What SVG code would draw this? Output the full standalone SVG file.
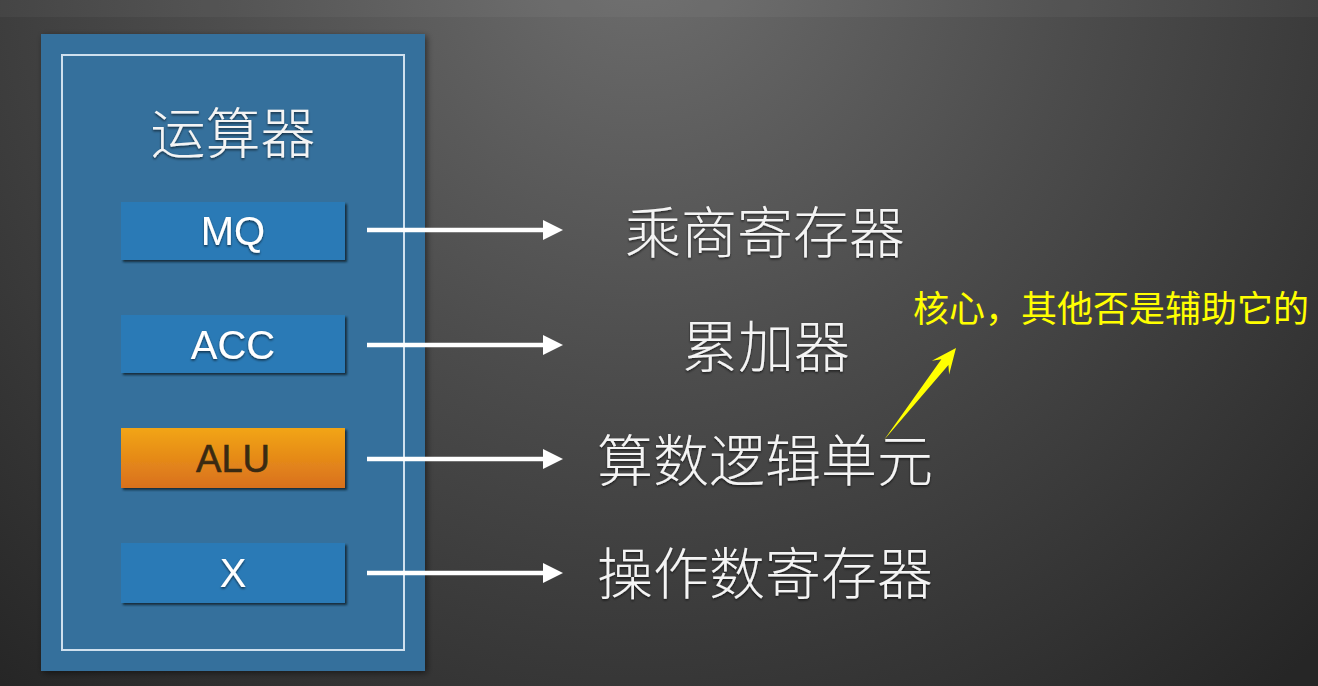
<svg xmlns="http://www.w3.org/2000/svg" width="1318" height="686" viewBox="0 0 1318 686">
  <defs>
    <radialGradient id="bg" cx="640" cy="-60" r="980" gradientUnits="userSpaceOnUse">
      <stop offset="0" stop-color="#6e6e6e"/>
      <stop offset="0.45" stop-color="#4c4c4c"/>
      <stop offset="1" stop-color="#262626"/>
    </radialGradient>
    <linearGradient id="orange" x1="0" y1="0" x2="0" y2="1">
      <stop offset="0" stop-color="#f2a512"/>
      <stop offset="1" stop-color="#d9701f"/>
    </linearGradient>
    <filter id="panelShadow" x="-10%" y="-10%" width="120%" height="120%">
      <feDropShadow dx="2" dy="2" stdDeviation="3" flood-color="#000" flood-opacity="0.5"/>
    </filter>
    <filter id="boxShadow" x="-10%" y="-20%" width="120%" height="150%">
      <feDropShadow dx="2" dy="2" stdDeviation="1" flood-color="#0a1a2a" flood-opacity="0.85"/>
    </filter>
    <filter id="textShadow" x="-10%" y="-20%" width="120%" height="150%">
      <feDropShadow dx="0" dy="1.5" stdDeviation="1" flood-color="#000" flood-opacity="0.6"/>
    </filter>
    <marker id="wArrow" viewBox="0 0 20 20" refX="0" refY="10" markerWidth="20" markerHeight="20" markerUnits="userSpaceOnUse" orient="auto">
      <path d="M0,0 L20,10 L0,20 Z" fill="#ffffff"/>
    </marker>
    <style>
      .box { fill: #2a7ab6; filter: url(#boxShadow); }
      .boxLabel { font-family: "Liberation Sans", Arial, sans-serif; font-size: 40px; fill: #ffffff; text-anchor: middle; filter: url(#textShadow); }
      .aluLabel { font-family: "Liberation Sans", Arial, sans-serif; font-size: 38px; fill: #3a2a12; stroke: #3a2a12; stroke-width: 0.6; text-anchor: middle; }
      .cn { font-family: "Noto Sans CJK SC", "Noto Sans", sans-serif; font-weight: 300; fill: #f4f4f4; text-anchor: middle; filter: url(#textShadow); }
      .conn { stroke: #ffffff; stroke-width: 4.5; fill: none; marker-end: url(#wArrow); }
    </style>
  </defs>

  <rect x="0" y="0" width="1318" height="686" fill="url(#bg)"/>
  <rect x="0" y="0" width="1318" height="17" fill="#ffffff" opacity="0.04"/>

  <g id="panel">
    <rect x="41" y="34" width="384" height="637" fill="#356f9c" filter="url(#panelShadow)"/>
    <rect x="62" y="55" width="342" height="595" fill="none" stroke="#cfe0ee" stroke-width="2"/>
    <text class="cn" x="233" y="153" font-size="55">运算器</text>
  </g>

  <g id="node-mq">
    <rect class="box" x="121" y="202" width="224" height="58"/>
    <text class="boxLabel" x="233" y="245">MQ</text>
  </g>
  <g id="node-acc">
    <rect class="box" x="121" y="315" width="224" height="58"/>
    <text class="boxLabel" x="233" y="359">ACC</text>
  </g>
  <g id="node-alu">
    <rect x="121" y="428" width="224" height="60" fill="url(#orange)" filter="url(#boxShadow)"/>
    <text class="aluLabel" x="233" y="472">ALU</text>
  </g>
  <g id="node-x">
    <rect class="box" x="121" y="543" width="224" height="60"/>
    <text class="boxLabel" x="233" y="587">X</text>
  </g>

  <g id="label-mq"><text class="cn" x="765" y="253" font-size="56">乘商寄存器</text></g>
  <g id="label-acc"><text class="cn" x="766" y="367" font-size="56">累加器</text></g>
  <g id="label-alu"><text class="cn" x="765" y="481" font-size="56">算数逻辑单元</text></g>
  <g id="label-x"><text class="cn" x="765" y="594" font-size="56">操作数寄存器</text></g>

  <g id="note">
    <text x="913" y="322" font-family="'Noto Sans CJK SC', sans-serif" font-size="36" fill="#ffff00">核心，其他否是辅助它的</text>
  </g>

  <g id="connectors">
    <line class="conn" x1="367" y1="230" x2="543" y2="230"/>
    <line class="conn" x1="367" y1="345" x2="543" y2="345"/>
    <line class="conn" x1="367" y1="459" x2="543" y2="459"/>
    <line class="conn" x1="367" y1="573" x2="543" y2="573"/>
    <polygon points="884,440 948.4,364.9 949.1,374.4 956,348 931.9,360.8 941.4,359.3" fill="#ffff00"/>
  </g>
</svg>
